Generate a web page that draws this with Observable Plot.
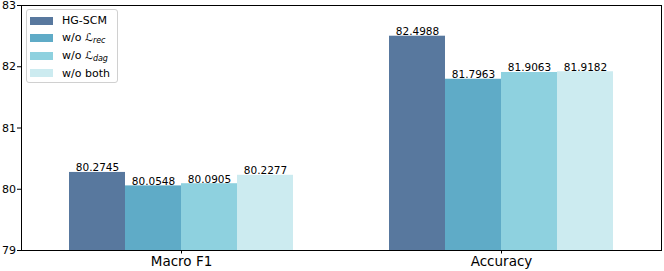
<!DOCTYPE html>
<html>
<head>
<meta charset="utf-8">
<script src="https://cdn.jsdelivr.net/npm/d3@7"></script>
<script src="https://cdn.jsdelivr.net/npm/@observablehq/plot@0.6"></script>
<style>
  body { margin: 0; background: #fff; font-family: "DejaVu Sans", sans-serif; }
  #wrap { position: relative; width: 664px; height: 271px; }
  #legend {
    position: absolute; left: 26px; top: 9px; width: 90px; height: 72px;
    border: 1px solid #d0d0d0; border-radius: 3px; background: rgba(255,255,255,0.85);
    font-size: 11px; color: #000;
  }
  .row { position: absolute; left: 0; height: 17px; display: flex; align-items: center; white-space: nowrap; }
  .sw { width: 23px; height: 8px; margin-left: 3px; margin-right: 9px; }
  .row sub { font-size: 8px; font-style: italic; vertical-align: -2px; }
  .L { font-family: "DejaVu Sans", sans-serif; font-style: normal; }
</style>
</head>
<body>
<div id="wrap"><div id="chart"></div><div id="legend"></div></div>
<script>
const groups = ["Macro F1", "Accuracy"];
const series = ["HG-SCM", "w/o rec", "w/o dag", "w/o both"];
const seriesLabels = ["HG-SCM", "w/o <span class='L'>ℒ</span><sub>rec</sub>", "w/o <span class='L'>ℒ</span><sub>dag</sub>", "w/o both"];
const macroF1 = [80.2745, 80.0548, 80.0905, 80.2277];
const accuracy = [82.4988, 81.7963, 81.9063, 81.9182];
const yTicks = [79, 80, 81, 82, 83];
const colors = ["#58789e", "#5fabc7", "#8ed1df", "#ccebf0"];

const valuesByGroup = {"Macro F1": macroF1, "Accuracy": accuracy};
const data = groups.flatMap(g => series.map((s, i) => ({group: g, series: s, value: valuesByGroup[g][i]})));
const yMin = yTicks[0];

const chart = Plot.plot({
  width: 664, height: 271,
  marginLeft: 20, marginRight: 3, marginTop: 5, marginBottom: 21,
  style: {fontFamily: "DejaVu Sans", fontSize: "10px", color: "#000", background: "#fff"},
  fx: {domain: groups, padding: 0, label: null, axis: null},
  x: {domain: series, axis: null, paddingInner: 0, paddingOuter: 0.857},
  y: {domain: [yMin, yTicks[yTicks.length - 1]], label: null, axis: null},
  color: {domain: series, range: colors},
  marks: [
    Plot.barY(data, {fx: "group", x: "series", y1: yMin, y2: "value", fill: "series"}),
    Plot.text(data, {fx: "group", x: "series", y: "value", text: d => d.value.toFixed(4), lineAnchor: "bottom", dy: -1, fontSize: 10.5, fill: "#000"}),
    Plot.axisY({ticks: yTicks, tickSize: 4, tickPadding: 1.5, tickFormat: d => String(d), label: null, fontSize: 11}),
    Plot.axisFx({anchor: "bottom", tickSize: 3.5, tickPadding: 2, fontSize: 13.5, label: null}),
    Plot.frame({facet: "super", stroke: "#000", strokeWidth: 1})
  ]
});
document.getElementById("chart").appendChild(chart);

const legend = document.getElementById("legend");
series.forEach((s, i) => {
  const row = document.createElement("div");
  row.className = "row";
  row.style.top = (2 + i * 17.5) + "px";
  row.innerHTML = `<div class="sw" style="background:${colors[i]}"></div><span>${seriesLabels[i]}</span>`;
  legend.appendChild(row);
});
</script>
</body>
</html>
